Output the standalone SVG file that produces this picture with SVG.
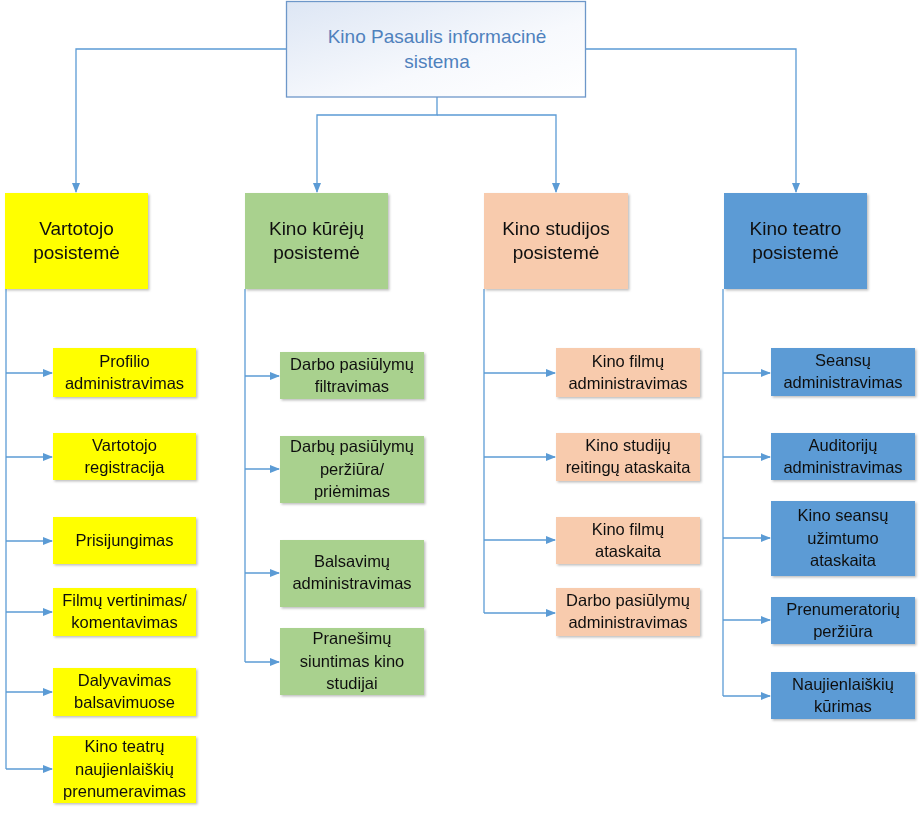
<svg xmlns="http://www.w3.org/2000/svg" width="921" height="813" viewBox="0 0 921 813">
<defs>
<linearGradient id="topg" x1="0" y1="0" x2="1" y2="1">
<stop offset="0" stop-color="#dde6f4"/>
<stop offset="0.6" stop-color="#f7f9fd"/>
<stop offset="1" stop-color="#ffffff"/>
</linearGradient>
<filter id="sh" x="-10%" y="-10%" width="130%" height="130%">
<feDropShadow dx="1.5" dy="1.5" stdDeviation="1" flood-color="#000" flood-opacity="0.25"/>
</filter>
<marker id="arr" markerWidth="10" markerHeight="8" refX="9" refY="4" orient="auto" markerUnits="userSpaceOnUse">
<path d="M0,0 L10,4 L0,8 Z" fill="#5b9bd5"/>
</marker>
</defs>
<style>
.ln{fill:none;stroke:#5b9bd5;stroke-width:1.3}
.t{font-family:"Liberation Sans",Arial,sans-serif;text-anchor:middle;fill:#111}
.c{font-size:16.5px}
.h{font-size:19px}
.y{fill:#ffff00}
.g{fill:#a9d18e}
.p{fill:#f8cbad}
.b{fill:#5b9bd5}
</style>
<rect width="921" height="813" fill="#ffffff"/>

<g id="connectors">
<polyline class="ln" points="286,49 76,49 76,192" marker-end="url(#arr)"/>
<polyline class="ln" points="586,49 796,49 796,192" marker-end="url(#arr)"/>
<polyline class="ln" points="437,97 437,115 317,115 317,192" marker-end="url(#arr)"/>
<polyline class="ln" points="437,115 556,115 556,192" marker-end="url(#arr)"/>
<line class="ln" x1="6" y1="289" x2="6" y2="769"/>
<line class="ln" x1="6" y1="373" x2="52" y2="373" marker-end="url(#arr)"/>
<line class="ln" x1="6" y1="457" x2="52" y2="457" marker-end="url(#arr)"/>
<line class="ln" x1="6" y1="541" x2="52" y2="541" marker-end="url(#arr)"/>
<line class="ln" x1="6" y1="612" x2="52" y2="612" marker-end="url(#arr)"/>
<line class="ln" x1="6" y1="692" x2="52" y2="692" marker-end="url(#arr)"/>
<line class="ln" x1="6" y1="769" x2="52" y2="769" marker-end="url(#arr)"/>
<line class="ln" x1="245" y1="289" x2="245" y2="662"/>
<line class="ln" x1="245" y1="376" x2="279" y2="376" marker-end="url(#arr)"/>
<line class="ln" x1="245" y1="469" x2="279" y2="469" marker-end="url(#arr)"/>
<line class="ln" x1="245" y1="573" x2="279" y2="573" marker-end="url(#arr)"/>
<line class="ln" x1="245" y1="662" x2="279" y2="662" marker-end="url(#arr)"/>
<line class="ln" x1="484" y1="289" x2="484" y2="613"/>
<line class="ln" x1="484" y1="373" x2="555" y2="373" marker-end="url(#arr)"/>
<line class="ln" x1="484" y1="457" x2="555" y2="457" marker-end="url(#arr)"/>
<line class="ln" x1="484" y1="540" x2="555" y2="540" marker-end="url(#arr)"/>
<line class="ln" x1="484" y1="613" x2="555" y2="613" marker-end="url(#arr)"/>
<line class="ln" x1="723" y1="289" x2="723" y2="696"/>
<line class="ln" x1="723" y1="373" x2="770" y2="373" marker-end="url(#arr)"/>
<line class="ln" x1="723" y1="457" x2="770" y2="457" marker-end="url(#arr)"/>
<line class="ln" x1="723" y1="538" x2="770" y2="538" marker-end="url(#arr)"/>
<line class="ln" x1="723" y1="620" x2="770" y2="620" marker-end="url(#arr)"/>
<line class="ln" x1="723" y1="696" x2="770" y2="696" marker-end="url(#arr)"/>
</g>

<g id="root">
<rect x="286.5" y="1.5" width="299" height="95.5" fill="url(#topg)" stroke="#6d97c9" stroke-width="1.3"/>
<text class="t" x="437" y="43" font-size="19" fill="#4f81bd" style="fill:#4f81bd">Kino Pasaulis informacinė</text>
<text class="t" x="437" y="68" font-size="19" style="fill:#4f81bd">sistema</text>
</g>

<g id="vartotojo" filter="url(#sh)">
<rect class="y" x="5" y="193" width="143" height="96"/>
<text class="t h" x="76.5" y="235">Vartotojo</text>
<text class="t h" x="76.5" y="259">posistemė</text>
</g>
<g id="kurejai" filter="url(#sh)">
<rect class="g" x="245" y="193" width="143" height="96"/>
<text class="t h" x="316.5" y="235">Kino kūrėjų</text>
<text class="t h" x="316.5" y="259">posistemė</text>
</g>
<g id="studija" filter="url(#sh)">
<rect class="p" x="484" y="193" width="144" height="96"/>
<text class="t h" x="556" y="235">Kino studijos</text>
<text class="t h" x="556" y="259">posistemė</text>
</g>
<g id="teatras" filter="url(#sh)">
<rect class="b" x="724" y="193" width="143" height="96"/>
<text class="t h" x="795.5" y="235">Kino teatro</text>
<text class="t h" x="795.5" y="259">posistemė</text>
</g>

<g id="v1" filter="url(#sh)"><rect class="y" x="53" y="348" width="143" height="49"/><text class="t c" x="124.5" y="367">Profilio</text><text class="t c" x="124.5" y="389">administravimas</text></g>
<g id="v2" filter="url(#sh)"><rect class="y" x="53" y="433" width="143" height="47"/><text class="t c" x="124.5" y="451">Vartotojo</text><text class="t c" x="124.5" y="473">registracija</text></g>
<g id="v3" filter="url(#sh)"><rect class="y" x="53" y="517" width="143" height="47"/><text class="t c" x="124.5" y="546">Prisijungimas</text></g>
<g id="v4" filter="url(#sh)"><rect class="y" x="53" y="588" width="143" height="48"/><text class="t c" x="124.5" y="606">Filmų vertinimas/</text><text class="t c" x="124.5" y="628">komentavimas</text></g>
<g id="v5" filter="url(#sh)"><rect class="y" x="53" y="668" width="143" height="48"/><text class="t c" x="124.5" y="686">Dalyvavimas</text><text class="t c" x="124.5" y="708">balsavimuose</text></g>
<g id="v6" filter="url(#sh)"><rect class="y" x="53" y="736" width="143" height="67"/><text class="t c" x="124.5" y="752">Kino teatrų</text><text class="t c" x="124.5" y="775">naujienlaiškių</text><text class="t c" x="124.5" y="797">prenumeravimas</text></g>

<g id="k1" filter="url(#sh)"><rect class="g" x="280" y="352" width="144" height="47"/><text class="t c" x="352" y="370">Darbo pasiūlymų</text><text class="t c" x="352" y="392">filtravimas</text></g>
<g id="k2" filter="url(#sh)"><rect class="g" x="280" y="436" width="144" height="67"/><text class="t c" x="352" y="452">Darbų pasiūlymų</text><text class="t c" x="352" y="475">peržiūra/</text><text class="t c" x="352" y="497">priėmimas</text></g>
<g id="k3" filter="url(#sh)"><rect class="g" x="280" y="540" width="144" height="67"/><text class="t c" x="352" y="567">Balsavimų</text><text class="t c" x="352" y="589">administravimas</text></g>
<g id="k4" filter="url(#sh)"><rect class="g" x="280" y="628" width="144" height="67"/><text class="t c" x="352" y="644">Pranešimų</text><text class="t c" x="352" y="667">siuntimas kino</text><text class="t c" x="352" y="689">studijai</text></g>

<g id="s1" filter="url(#sh)"><rect class="p" x="556" y="348" width="144" height="49"/><text class="t c" x="628" y="367">Kino filmų</text><text class="t c" x="628" y="389">administravimas</text></g>
<g id="s2" filter="url(#sh)"><rect class="p" x="556" y="433" width="144" height="48"/><text class="t c" x="628" y="451">Kino studijų</text><text class="t c" x="628" y="473">reitingų ataskaita</text></g>
<g id="s3" filter="url(#sh)"><rect class="p" x="556" y="517" width="144" height="47"/><text class="t c" x="628" y="535">Kino filmų</text><text class="t c" x="628" y="557">ataskaita</text></g>
<g id="s4" filter="url(#sh)"><rect class="p" x="556" y="588" width="144" height="48"/><text class="t c" x="628" y="606">Darbo pasiūlymų</text><text class="t c" x="628" y="628">administravimas</text></g>

<g id="t1" filter="url(#sh)"><rect class="b" x="771" y="348" width="144" height="48"/><text class="t c" x="843" y="366">Seansų</text><text class="t c" x="843" y="388">administravimas</text></g>
<g id="t2" filter="url(#sh)"><rect class="b" x="771" y="433" width="144" height="47"/><text class="t c" x="843" y="451">Auditorijų</text><text class="t c" x="843" y="473">administravimas</text></g>
<g id="t3" filter="url(#sh)"><rect class="b" x="771" y="501" width="144" height="75"/><text class="t c" x="843" y="521">Kino seansų</text><text class="t c" x="843" y="544">užimtumo</text><text class="t c" x="843" y="566">ataskaita</text></g>
<g id="t4" filter="url(#sh)"><rect class="b" x="771" y="597" width="144" height="47"/><text class="t c" x="843" y="615">Prenumeratorių</text><text class="t c" x="843" y="637">peržiūra</text></g>
<g id="t5" filter="url(#sh)"><rect class="b" x="771" y="672" width="144" height="47"/><text class="t c" x="843" y="690">Naujienlaiškių</text><text class="t c" x="843" y="712">kūrimas</text></g>
</svg>
